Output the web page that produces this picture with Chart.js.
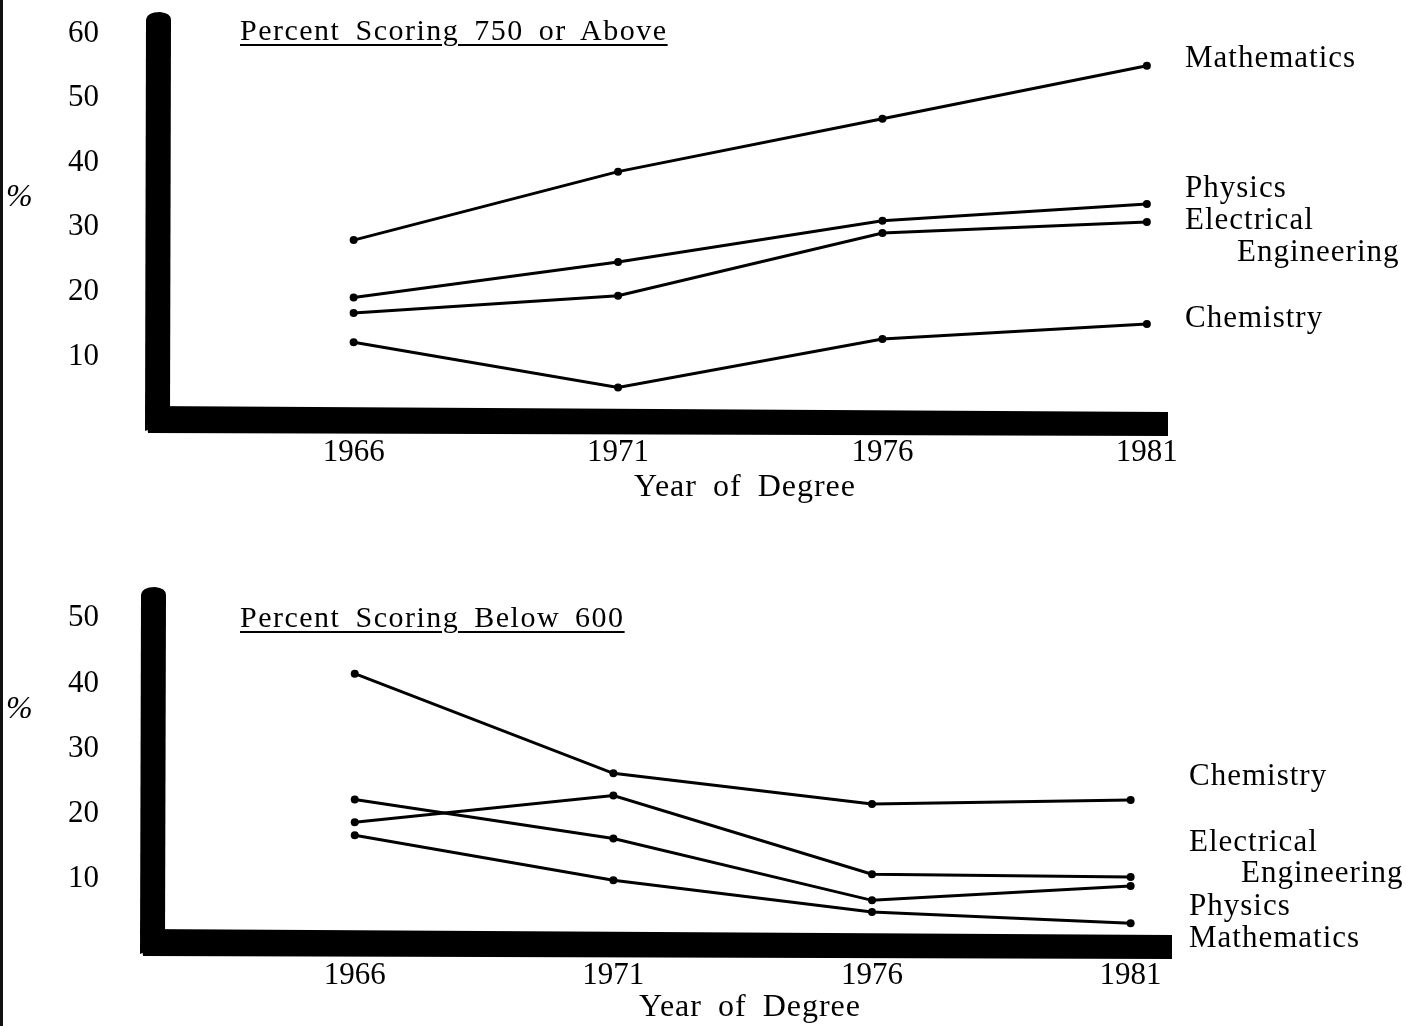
<!DOCTYPE html>
<html>
<head>
<meta charset="utf-8">
<script src="https://cdn.jsdelivr.net/npm/chart.js@4.4.1/dist/chart.umd.min.js"></script>
<style>
  html, body { margin: 0; padding: 0; background: #fff; }
  body { width: 1406px; height: 1026px; position: relative; overflow: hidden; font-family: "Liberation Serif", "Times New Roman", serif; color: #000; }
  canvas { position: absolute; left: 0; }
  .txt { position: absolute; white-space: nowrap; line-height: 36px; }
  .title { font-size: 30px; letter-spacing: 1.5px; word-spacing: 6px; text-decoration: underline; text-underline-offset: 4px; text-decoration-thickness: 2px; }
  .pct { font-size: 32px; font-style: italic; left: 6px; }
  .xlab { font-size: 32px; letter-spacing: 1px; word-spacing: 7px; transform: translateX(-50%); }
  .edge { position: absolute; left: 0; top: 0; width: 3px; height: 1026px; background: #111; }
</style>
</head>
<body>
<div class="edge"></div>
<canvas id="top" width="1406" height="480" style="top:0"></canvas>
<canvas id="low" width="1406" height="451" style="top:575px"></canvas>

<div class="txt title" style="left:240px; top:12px">Percent Scoring 750 or Above</div>
<div class="txt pct" style="top:177px">%</div>
<div class="txt xlab" style="left:745px; top:467px">Year of Degree</div>

<div class="txt title" style="left:240px; top:599px">Percent Scoring Below 600</div>
<div class="txt pct" style="top:689px">%</div>
<div class="txt xlab" style="left:750px; top:987px">Year of Degree</div>

<script>
// years of degree
const years = [1966, 1971, 1976, 1981];

// percent scoring 750 or above
const topMath = [28.0, 38.6, 46.8, 55.0];
const topPhys = [19.1, 24.6, 31.0, 33.6];
const topEE   = [16.7, 19.4, 29.1, 30.8];
const topChem = [12.2, 5.2, 12.7, 15.0];
const topTicks = [10, 20, 30, 40, 50, 60];

// percent scoring below 600
const lowChem = [41.5, 26.2, 21.5, 22.1];
const lowEE   = [18.7, 22.8, 10.7, 10.3];
const lowPhys = [22.2, 16.2, 6.7, 8.9];
const lowMath = [16.7, 9.8, 4.9, 3.2];
const lowTicks = [10, 20, 30, 40, 50];

// names written at the right end of the lines (at = y value of the text)
const topTags = [
  { text: 'Mathematics', at: 56.0 },
  { text: 'Physics', at: 36.0 },
  { text: 'Electrical', at: 31.0 },
  { text: 'Engineering', at: 26.0, indent: 52 },
  { text: 'Chemistry', at: 15.8 }
];
const lowTags = [
  { text: 'Chemistry', at: 25.7 },
  { text: 'Electrical', at: 15.6 },
  { text: 'Engineering', at: 10.7, indent: 52 },
  { text: 'Physics', at: 5.7 },
  { text: 'Mathematics', at: 0.8 }
];

const serif = '"Liberation Serif", "Times New Roman", serif';

// heavy hand-drawn looking L axes
const axisBars = {
  id: 'axisBars',
  beforeDatasetsDraw(chart, args, o){
    const { ctx, chartArea: a } = chart;
    const w = o.width;
    ctx.save();
    ctx.fillStyle = '#000';
    // vertical bar, slightly rounded on top
    ctx.beginPath();
    ctx.moveTo(a.left - w/2, a.bottom + 10);
    ctx.lineTo(a.left - w/2 + 1, a.top + 6);
    ctx.quadraticCurveTo(a.left - w/2 + 2, a.top - 2, a.left + 2, a.top - 2);
    ctx.quadraticCurveTo(a.left + w/2, a.top - 1, a.left + w/2, a.top + 6);
    ctx.lineTo(a.left + w/2 - 1, a.bottom);
    ctx.closePath();
    ctx.fill();
    // horizontal bar, a bit thicker to the right
    ctx.beginPath();
    ctx.moveTo(a.left - w/2, a.bottom - 15);
    ctx.lineTo(a.right, a.bottom - 9);
    ctx.lineTo(a.right, a.bottom + 15);
    ctx.lineTo(a.left - w/2 + 3, a.bottom + 12);
    ctx.closePath();
    ctx.fill();
    ctx.restore();
  }
};

const tags = {
  id: 'tags',
  afterDraw(chart, args, o){
    const { ctx, chartArea: a } = chart;
    const y = chart.scales.y;
    ctx.save();
    ctx.fillStyle = '#000';
    ctx.font = '31px ' + serif;
    ctx.letterSpacing = '1px';
    ctx.textBaseline = 'middle';
    o.items.forEach(t => {
      ctx.fillText(t.text, a.right + o.dx + (t.indent || 0), y.getPixelForValue(t.at));
    });
    ctx.restore();
  }
};

function series(vals){
  return vals.map((v, i) => ({ x: years[i], y: v }));
}

function makeChart(id, sets, cfg){
  const ds = sets.map(s => ({
    label: s.name,
    data: series(s.vals),
    borderColor: '#000',
    backgroundColor: '#000',
    borderWidth: 3,
    pointRadius: 4,
    pointBackgroundColor: '#000',
    pointBorderWidth: 0,
    tension: 0,
    clip: false
  }));
  const tickFont = { family: serif, size: 31 };
  return new Chart(document.getElementById(id), {
    type: 'line',
    data: { datasets: ds },
    options: {
      responsive: false,
      animation: false,
      layout: { padding: { top: 14, right: cfg.right, left: 0, bottom: 0 } },
      plugins: {
        legend: { display: false },
        tooltip: { enabled: false },
        axisBars: { width: 26 },
        tags: { items: cfg.tags, dx: 17 }
      },
      scales: {
        x: {
          type: 'linear',
          min: cfg.xmin, max: cfg.xmax,
          grid: { display: false, drawTicks: false },
          border: { display: false },
          afterBuildTicks: s => { s.ticks = years.map(v => ({ value: v })); },
          afterFit: s => { s.height = cfg.xh; s.paddingLeft = 0; s.paddingRight = 0; },
          ticks: { color: '#000', font: tickFont, padding: 13, maxRotation: 0, autoSkip: false, callback: v => String(v) }
        },
        y: {
          min: 0, max: cfg.ymax,
          grid: { display: false, drawTicks: false },
          border: { display: false },
          afterBuildTicks: s => { s.ticks = cfg.ticks.map(v => ({ value: v })); },
          afterFit: s => { s.width = cfg.left; s.paddingTop = 0; s.paddingBottom = 0; },
          ticks: { color: '#000', font: tickFont, padding: cfg.left - 99 }
        }
      }
    },
    plugins: [axisBars, tags]
  });
}

makeChart('top', [
  { name: 'Mathematics', vals: topMath },
  { name: 'Physics', vals: topPhys },
  { name: 'Electrical Engineering', vals: topEE },
  { name: 'Chemistry', vals: topChem }
], { left: 158, right: 238, xmin: 1962.3, xmax: 1981.4, ymax: 63, ticks: topTicks, xh: 59, tags: topTags });

makeChart('low', [
  { name: 'Chemistry', vals: lowChem },
  { name: 'Electrical Engineering', vals: lowEE },
  { name: 'Physics', vals: lowPhys },
  { name: 'Mathematics', vals: lowMath }
], { left: 153, right: 234, xmin: 1962.1, xmax: 1981.8, ymax: 54.5, ticks: lowTicks, xh: 82, tags: lowTags });
</script>
</body>
</html>
